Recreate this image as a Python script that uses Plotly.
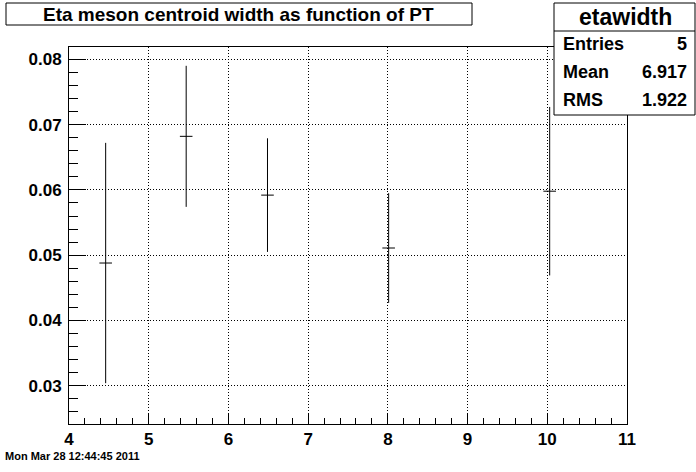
import plotly.graph_objects as go

# ---- data ----
pt = [4.46, 5.47, 6.49, 8.01, 10.03]
eta_width = [0.0488, 0.0682, 0.0592, 0.0511, 0.0598]
eta_width_err = [0.0184, 0.0108, 0.0087, 0.0084, 0.0129]

title_text = "Eta meson centroid width as function of PT"
stats_name = "etawidth"
stats_labels = ["Entries", "Mean", "RMS"]
stats_values = ["5", "6.917", "1.922"]
date_text = "Mon Mar 28 12:44:45 2011"

x_ticks = [4, 5, 6, 7, 8, 9, 10, 11]
y_ticks = [0.03, 0.04, 0.05, 0.06, 0.07, 0.08]

# ---- layout geometry (pixels) ----
W, H = 696, 472
L, R, T, B = 69, 627, 47, 424


def px(x):
    return (x - L) / (R - L)


def py(y):
    return (B - y) / (B - T)


FONT = "Liberation Sans, Arial, Helvetica, sans-serif"

fig = go.Figure()
fig.add_trace(go.Scatter(
    x=pt, y=eta_width,
    mode="markers",
    marker=dict(symbol="line-ew", size=9, color="black",
                line=dict(width=1, color="black")),
    error_y=dict(type="data", array=eta_width_err, visible=True,
                 width=0, thickness=1, color="black"),
    showlegend=False,
    cliponaxis=False,
))

axis_common = dict(
    showline=True, linecolor="black", linewidth=1, mirror=True,
    ticks="inside", tickcolor="black", tickwidth=1,
    showgrid=True, gridcolor="black", gridwidth=1, griddash="1px,2px",
    zeroline=False,
    tickfont=dict(family=FONT, size=17, color="black", weight="bold"),
)

fig.update_xaxes(
    range=[4, 11], tickvals=x_ticks, ticktext=[str(v) for v in x_ticks],
    ticklen=11,
    minor=dict(dtick=0.2, ticks="inside", ticklen=6, tickcolor="black",
               showgrid=False),
    **axis_common,
)
fig.update_yaxes(
    range=[0.02415, 0.08188], tickvals=y_ticks,
    ticktext=[f"{v:.2f}" for v in y_ticks],
    ticklen=17, ticklabelstandoff=3,
    minor=dict(dtick=0.002, tick0=0.0, ticks="inside", ticklen=9,
               tickcolor="black", showgrid=False),
    **axis_common,
)

shapes = []
annotations = []

# title box
shapes.append(dict(type="rect", xref="paper", yref="paper",
                   x0=px(6), x1=px(472), y0=py(25), y1=py(3),
                   line=dict(color="black", width=1), fillcolor="white",
                   layer="above"))
annotations.append(dict(xref="paper", yref="paper", x=px(238), y=py(14),
                        text=title_text, showarrow=False,
                        xanchor="center", yanchor="middle",
                        font=dict(family=FONT, size=19, color="black",
                                  weight="bold")))

# stats box
shapes.append(dict(type="rect", xref="paper", yref="paper",
                   x0=px(554), x1=px(695), y0=py(115), y1=py(3),
                   line=dict(color="black", width=1), fillcolor="white",
                   layer="above"))
shapes.append(dict(type="line", xref="paper", yref="paper",
                   x0=px(554), x1=px(695), y0=py(31), y1=py(31),
                   line=dict(color="black", width=1), layer="above"))
annotations.append(dict(xref="paper", yref="paper", x=px(625), y=py(17),
                        text=stats_name, showarrow=False,
                        xanchor="center", yanchor="middle",
                        font=dict(family=FONT, size=23, color="black",
                                  weight="bold")))
row_y = [44, 72, 100]
for lab, val, yy in zip(stats_labels, stats_values, row_y):
    annotations.append(dict(xref="paper", yref="paper", x=px(561), y=py(yy),
                            text=lab, showarrow=False,
                            xanchor="left", yanchor="middle",
                            font=dict(family=FONT, size=18, color="black",
                                      weight="bold")))
    annotations.append(dict(xref="paper", yref="paper", x=px(689), y=py(yy),
                            text=val, showarrow=False,
                            xanchor="right", yanchor="middle",
                            font=dict(family=FONT, size=18, color="black",
                                      weight="bold")))

# date stamp
annotations.append(dict(xref="paper", yref="paper", x=px(3), y=py(456),
                        text=date_text, showarrow=False,
                        xanchor="left", yanchor="middle",
                        font=dict(family=FONT, size=11, color="black",
                                  weight="bold")))

fig.update_layout(
    width=W, height=H,
    margin=dict(l=L, r=W - R, t=T, b=H - B, pad=0),
    paper_bgcolor="white", plot_bgcolor="white",
    shapes=shapes, annotations=annotations,
    showlegend=False,
)

fig.write_html(
    "out.html",
    config={"displayModeBar": False},
    post_script="document.body.style.margin='0';document.body.style.padding='0';document.body.style.overflow='hidden';",
)
